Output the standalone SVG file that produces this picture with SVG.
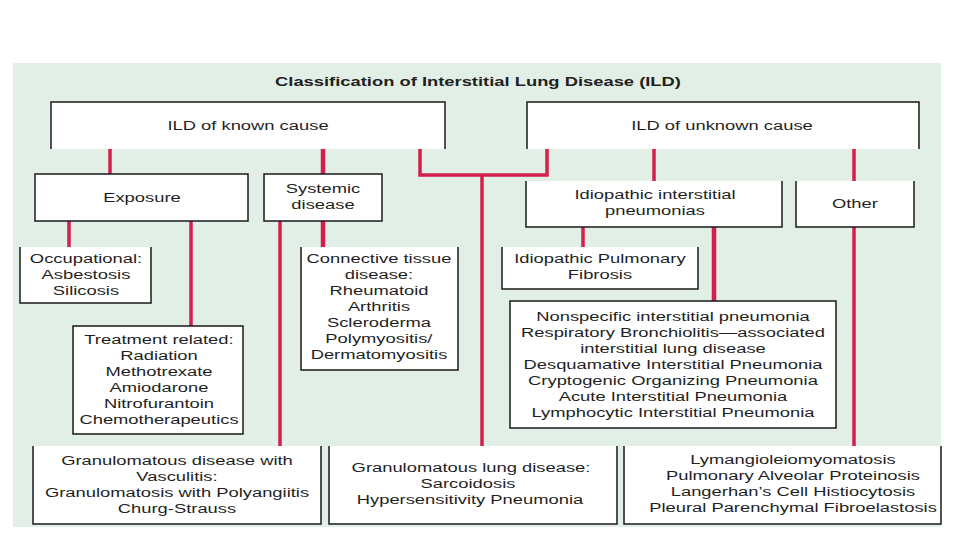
<svg xmlns="http://www.w3.org/2000/svg" width="960" height="540" viewBox="0 0 960 540">
<style>
text{font-family:"Liberation Sans",Arial,sans-serif;font-size:13.5px;fill:#1f1f1f;text-anchor:middle;transform:scaleX(1.36);transform-box:fill-box;transform-origin:center}
.title{font-weight:bold}
.box{fill:#ffffff;stroke:none}
.bd{fill:none;stroke:#1a1a1a;stroke-width:1.5}
.c{fill:none;stroke:#d21f4e;stroke-width:3.5}
.ct{fill:none;stroke:#d21f4e;stroke-width:4.5}
</style>
<rect x="0" y="0" width="960" height="540" fill="#ffffff"/>
<rect x="13" y="63" width="928" height="464" fill="#e2efe6"/>
<text class="title" x="478" y="86">Classification of Interstitial Lung Disease (ILD)</text>

<g id="connectors">
<line class="c" x1="110" y1="149" x2="110" y2="174"/>
<line class="ct" x1="323" y1="149" x2="323" y2="174"/>
<polyline class="c" points="420,149 420,175 547,175 547,149"/>
<line class="c" x1="482" y1="175" x2="482" y2="446"/>
<line class="c" x1="654" y1="149" x2="654" y2="181"/>
<line class="c" x1="854" y1="149" x2="854" y2="181"/>
<line class="c" x1="69" y1="221" x2="69" y2="247"/>
<line class="c" x1="191" y1="221" x2="191" y2="326"/>
<line class="c" x1="280" y1="221" x2="280" y2="446"/>
<line class="ct" x1="323" y1="221" x2="323" y2="247"/>
<line class="c" x1="583" y1="227" x2="583" y2="247"/>
<line class="ct" x1="714" y1="227" x2="714" y2="301"/>
<line class="c" x1="854" y1="227" x2="854" y2="446"/>
</g>

<g id="known">
<rect class="box" x="51" y="102" width="394" height="47"/>
<path class="bd" d="M51,149 V102 H445 V149"/>
<text x="248" y="130">ILD of known cause</text>
</g>
<g id="unknown">
<rect class="box" x="527" y="102" width="392" height="47"/>
<path class="bd" d="M527,149 V102 H919 V149"/>
<text x="722" y="130">ILD of unknown cause</text>
</g>
<g id="exposure">
<rect class="box" x="35" y="174" width="213" height="47"/>
<rect class="bd" x="35" y="174" width="213" height="47"/>
<text x="142" y="202">Exposure</text>
</g>
<g id="systemic">
<rect class="box" x="264" y="174" width="118" height="47"/>
<rect class="bd" x="264" y="174" width="118" height="47"/>
<text x="323" y="193">Systemic</text>
<text x="323" y="209">disease</text>
</g>
<g id="idiopathic">
<rect class="box" x="526" y="181" width="256" height="46"/>
<path class="bd" d="M526,181 V227 H782 V181"/>
<text x="655" y="199">Idiopathic interstitial</text>
<text x="655" y="215">pneumonias</text>
</g>
<g id="other">
<rect class="box" x="796" y="181" width="118" height="46"/>
<path class="bd" d="M796,181 V227 H914 V181"/>
<text x="855" y="208">Other</text>
</g>
<g id="occupational">
<rect class="box" x="20" y="247" width="131" height="56"/>
<path class="bd" d="M20,247 V303 H151 V247"/>
<text x="86" y="263">Occupational:</text>
<text x="86" y="279">Asbestosis</text>
<text x="86" y="295">Silicosis</text>
</g>
<g id="treatment">
<rect class="box" x="73" y="326" width="170" height="108"/>
<rect class="bd" x="73" y="326" width="170" height="108"/>
<text x="159" y="344">Treatment related:</text>
<text x="159" y="360">Radiation</text>
<text x="159" y="376">Methotrexate</text>
<text x="159" y="392">Amiodarone</text>
<text x="159" y="408">Nitrofurantoin</text>
<text x="159" y="424">Chemotherapeutics</text>
</g>
<g id="connective">
<rect class="box" x="301" y="247" width="157" height="123"/>
<path class="bd" d="M301,247 V370 H458 V247"/>
<text x="379" y="263">Connective tissue</text>
<text x="379" y="279">disease:</text>
<text x="379" y="295">Rheumatoid</text>
<text x="379" y="311">Arthritis</text>
<text x="379" y="327">Scleroderma</text>
<text x="379" y="343">Polymyositis/</text>
<text x="379" y="359">Dermatomyositis</text>
</g>
<g id="ipf">
<rect class="box" x="502" y="247" width="196" height="42"/>
<path class="bd" d="M502,247 V289 H698 V247"/>
<text x="600" y="263">Idiopathic Pulmonary</text>
<text x="600" y="279">Fibrosis</text>
</g>
<g id="iip-list">
<rect class="box" x="510" y="301" width="326" height="127"/>
<rect class="bd" x="510" y="301" width="326" height="127"/>
<text x="673" y="321">Nonspecific interstitial pneumonia</text>
<text x="673" y="337">Respiratory Bronchiolitis—associated</text>
<text x="673" y="353">interstitial lung disease</text>
<text x="673" y="369">Desquamative Interstitial Pneumonia</text>
<text x="673" y="385">Cryptogenic Organizing Pneumonia</text>
<text x="673" y="401">Acute Interstitial Pneumonia</text>
<text x="673" y="417">Lymphocytic Interstitial Pneumonia</text>
</g>
<g id="granulomatous-vasculitis">
<rect class="box" x="33" y="446" width="288" height="78"/>
<path class="bd" d="M33,446 V524 H321 V446"/>
<text x="177" y="465">Granulomatous disease with</text>
<text x="177" y="481">Vasculitis:</text>
<text x="177" y="497">Granulomatosis with Polyangiitis</text>
<text x="177" y="513">Churg-Strauss</text>
</g>
<g id="granulomatous-lung">
<rect class="box" x="329" y="446" width="288" height="78"/>
<path class="bd" d="M329,446 V524 H617 V446"/>
<text x="471" y="472">Granulomatous lung disease:</text>
<text x="468" y="488">Sarcoidosis</text>
<text x="470" y="504">Hypersensitivity Pneumonia</text>
</g>
<g id="other-list">
<rect class="box" x="624" y="446" width="317" height="78"/>
<path class="bd" d="M624,446 V524 H941 V446"/>
<text x="793" y="464">Lymangioleiomyomatosis</text>
<text x="793" y="480">Pulmonary Alveolar Proteinosis</text>
<text x="793" y="496">Langerhan’s Cell Histiocytosis</text>
<text x="793" y="512">Pleural Parenchymal Fibroelastosis</text>
</g>
</svg>
